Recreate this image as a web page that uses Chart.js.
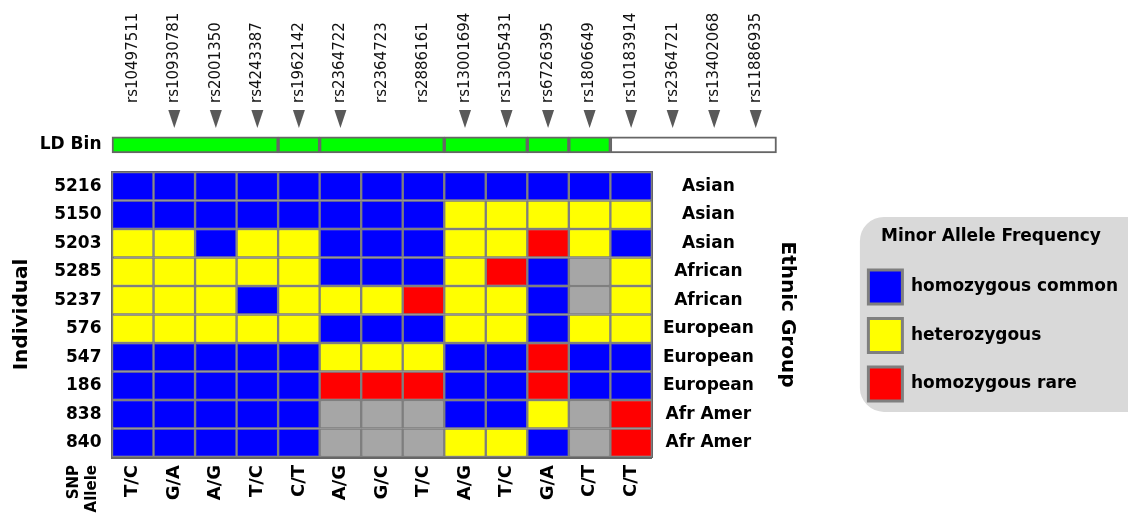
<!DOCTYPE html>
<html>
<head>
<meta charset="utf-8">
<script src="https://cdn.jsdelivr.net/npm/chart.js@4"></script>
<style>
  html, body { margin: 0; padding: 0; background: #fff; }
</style>
</head>
<body>
<canvas id="c" width="1128" height="513"></canvas>
<script>
// SNPs along the top (the grid only has genotypes for the first 13)
const snpIds = ['rs10497511','rs10930781','rs2001350','rs4243387','rs1962142','rs2364722','rs2364723',
  'rs2886161','rs13001694','rs13005431','rs6726395','rs1806649','rs10183914','rs2364721','rs13402068','rs11886935'];
const snpTagged = [false,true,true,true,true,true,false,false,true,true,true,true,true,true,true,true];
const alleles = ['T/C','G/A','A/G','T/C','C/T','A/G','G/C','T/C','A/G','T/C','G/A','C/T','C/T'];

// LD bins as SNP index ranges, last one is outside any bin
const ldBins = [[0,4],[4,5],[5,8],[8,10],[10,11],[11,12],[12,16]];
const ldInBin = [true,true,true,true,true,true,false];

const individuals = ['5216','5150','5203','5285','5237','576','547','186','838','840'];
const ethnicGroups = ['Asian','Asian','Asian','African','African','European','European','European','Afr Amer','Afr Amer'];

// 0 = homozygous common, 1 = heterozygous, 2 = homozygous rare, null = no call
const genotypes = [
  [0,0,0,0,0,0,0,0,0,0,0,0,0],
  [0,0,0,0,0,0,0,0,1,1,1,1,1],
  [1,1,0,1,1,0,0,0,1,1,2,1,0],
  [1,1,1,1,1,0,0,0,1,2,0,null,1],
  [1,1,1,0,1,1,1,2,1,1,0,null,1],
  [1,1,1,1,1,0,0,0,1,1,0,1,1],
  [0,0,0,0,0,1,1,1,0,0,2,0,0],
  [0,0,0,0,0,2,2,2,0,0,2,0,0],
  [0,0,0,0,0,null,null,null,0,0,1,null,2],
  [0,0,0,0,0,null,null,null,1,1,0,null,2]
];
const genoNames = ['homozygous common','heterozygous','homozygous rare','no call'];
const genoCodes = [0, 1, 2, null];

// ---- styling / layout ----
const FONT = 'DejaVu Sans';
const genoColors = ['#0000ff','#ffff00','#ff0000','#a6a6a6'];
const cellLine = '#7f7f7f';
const ldRowY = -1.45, arrowRowY = -2.36;
const nCols = alleles.length;

const cellData = code => {
  const pts = [];
  genotypes.forEach((row, r) => row.forEach((g, c) => {
    if (g === code) pts.push({x: c + 0.5, y: [r - 0.5, r + 0.5]});
  }));
  return pts;
};

const datasets = genoCodes.map((code, k) => ({
  label: genoNames[k],
  data: cellData(code),
  backgroundColor: genoColors[k],
  borderColor: cellLine,
  borderWidth: 1.5,
  borderSkipped: false,
  grouped: false,
  barPercentage: 1,
  categoryPercentage: 1,
  xAxisID: 'x', yAxisID: 'y'
}));

datasets.push({
  label: 'LD Bin',
  indexAxis: 'y',
  data: ldBins.map(b => ({x: b, y: ldRowY})),
  backgroundColor: ldInBin.map(f => f ? '#00ff00' : '#ffffff'),
  borderColor: '#666666',
  borderWidth: 2,
  borderSkipped: false,
  grouped: false,
  barThickness: 16,
  clip: false,
  xAxisID: 'xl', yAxisID: 'y'
});

function bold(size) { return {family: FONT, size: size, weight: 'bold'}; }

const arrowPlugin = {
  id: 'snpArrows',
  afterDatasetsDraw(chart) {
    const {ctx, scales: {x, y}} = chart;
    const yc = y.getPixelForValue(arrowRowY);
    ctx.save();
    ctx.fillStyle = '#595959';
    snpTagged.forEach((t, i) => {
      if (!t) return;
      const xc = x.getPixelForValue(i + 0.5);
      ctx.beginPath();
      ctx.moveTo(xc - 6, yc - 9);
      ctx.lineTo(xc + 6, yc - 9);
      ctx.lineTo(xc, yc + 9);
      ctx.closePath();
      ctx.fill();
    });
    ctx.restore();
  }
};

const legendPanel = {
  id: 'legendPanel',
  beforeDraw(chart) {
    const lg = chart.legend;
    if (!lg || !lg.legendHitBoxes || !lg.legendHitBoxes.length) return;
    const hb = lg.legendHitBoxes;
    const left = lg.left + 6;
    const top = hb[0].top - 53;
    const bottom = hb[hb.length - 1].top + hb[hb.length - 1].height + 11;
    const ctx = chart.ctx;
    ctx.save();
    ctx.fillStyle = '#d9d9d9';
    ctx.beginPath();
    ctx.roundRect(left, top, chart.width - left + 30, bottom - top, 24);
    ctx.fill();
    ctx.restore();
  }
};

const yTicks = [ldRowY].concat(individuals.map((_, i) => i));
const yLabels = ['LD Bin'].concat(individuals);
const xbTicks = [-0.92].concat(alleles.map((_, i) => i + 0.5));
const xbLabels = [['SNP', 'Allele']].concat(alleles);

new Chart(document.getElementById('c'), {
  type: 'bar',
  data: {datasets},
  plugins: [legendPanel, arrowPlugin],
  options: {
    responsive: false,
    animation: false,
    events: [],
    layout: {padding: 0},
    scales: {
      x: {
        type: 'linear', position: 'top', min: 0, max: nCols, offset: false, z: 1,
        grid: {display: false, drawTicks: false},
        border: {display: true, color: '#666666', width: 3},
        afterBuildTicks: s => { s.ticks = snpIds.map((_, i) => ({value: i + 0.5})); },
        afterFit: s => { s.height = 172; },
        ticks: {
          autoSkip: false, minRotation: 90, maxRotation: 90, padding: 69, labelOffset: 18,
          color: '#111', font: {family: FONT, size: 15},
          callback: (v, i) => snpIds[i]
        }
      },
      xb: {
        type: 'linear', position: 'bottom', min: 0, max: nCols, offset: false, z: 1,
        grid: {display: false, drawTicks: false},
        border: {display: true, color: '#666666', width: 3},
        afterBuildTicks: s => { s.ticks = xbTicks.map(v => ({value: v})); },
        afterFit: s => { s.height = 56; },
        ticks: {
          autoSkip: false, minRotation: 90, maxRotation: 90, padding: 8,
          color: '#000',
          font: c => c.index === 0 ? bold(15) : bold(18),
          callback: (v, i) => xbLabels[i]
        }
      },
      xl: {type: 'linear', display: false, min: 0, max: nCols, offset: false},
      y: {
        type: 'linear', position: 'left', reverse: true, min: -0.5, max: individuals.length - 0.5,
        offset: false, z: 1,
        grid: {display: false, drawTicks: false},
        border: {display: true, color: '#666666', width: 3},
        afterBuildTicks: s => { s.ticks = yTicks.map(v => ({value: v})); },
        afterFit: s => { s.width = 112; },
        ticks: {autoSkip: false, padding: 10.5, color: '#000', font: bold(17),
          callback: (v, i) => yLabels[i]},
        title: {display: true, text: 'Individual', color: '#000', font: bold(20),
          padding: {top: 10, bottom: 0}}
      },
      yr: {
        type: 'linear', position: 'right', reverse: true, min: -0.5, max: individuals.length - 0.5,
        offset: false, z: 1,
        grid: {display: false, drawTicks: false},
        border: {display: true, color: '#666666', width: 3},
        afterBuildTicks: s => { s.ticks = ethnicGroups.map((_, i) => ({value: i})); },
        afterFit: s => { s.width = 202; },
        ticks: {autoSkip: false, padding: 11, crossAlign: 'center', color: '#000', font: bold(17),
          callback: (v, i) => ethnicGroups[i]},
        title: {display: true, text: 'Ethnic Group', color: '#000', font: bold(20),
          padding: {top: 55, bottom: 20}}
      }
    },
    plugins: {
      tooltip: {enabled: false},
      legend: {
        position: 'right',
        align: 'start',
        maxWidth: 320,
        title: {display: true, text: 'Minor Allele Frequency', color: '#000', font: bold(17),
          padding: {top: 228, bottom: 7}},
        labels: {
          boxWidth: 34, boxHeight: 34, padding: 14.5, color: '#000', font: bold(17),
          filter: item => item.datasetIndex < 3,
          generateLabels: chart => {
            const items = Chart.defaults.plugins.legend.labels.generateLabels(chart);
            items.forEach(it => { it.lineWidth = 3; it.strokeStyle = cellLine; });
            return items;
          }
        }
      }
    }
  }
});
</script>
</body>
</html>
